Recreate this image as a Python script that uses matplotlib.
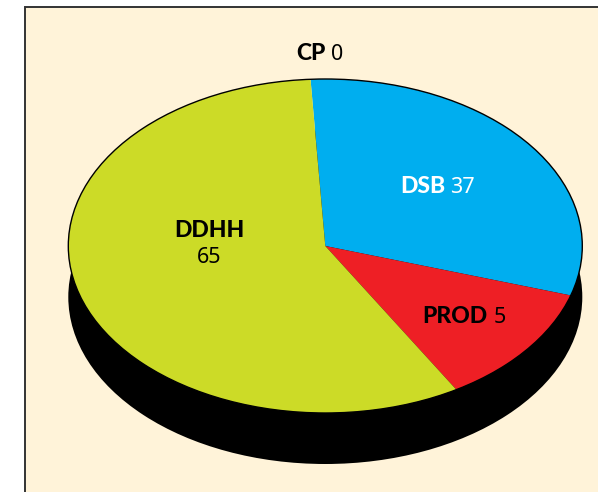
import matplotlib
matplotlib.use("Agg")
import matplotlib.pyplot as plt
from matplotlib.patches import Ellipse, Rectangle

# labels show the printed numbers, shares are the slice sizes as drawn in the picture
slice_names = ["DSB", "PROD", "DDHH", "CP"]
printed_values = [37, 5, 65, 0]
drawn_shares = [30.7, 11.7, 57.6, 0]
slice_colors = ["#00AEEF", "#EE1F25", "#CCDB27", "#FFFFFF"]

W, H = 598, 492
CX, CY, RX, RY = 325.3, 246, 257, 167
DEPTH = 51
NAME_FONT = "Lato"
VALUE_FONT = "Noto Sans"


def add_name(ax, x, y, name, color="black", ha="left"):
    ax.text(x, y, name, fontsize=16.5, fontweight="black", family=NAME_FONT, color=color, ha=ha, va="baseline")


def add_value(ax, x, y, value, color="black", ha="left"):
    ax.text(x, y, str(value), fontsize=15.5, fontweight="light", family=VALUE_FONT, color=color, ha=ha, va="baseline")


def main():
    fig = plt.figure(figsize=(W / 100, H / 100), dpi=100, facecolor="white")

    base = fig.add_axes([0, 0, 1, 1])
    base.set_xlim(0, W)
    base.set_ylim(H, 0)
    base.axis("off")
    base.add_patch(Rectangle((24.5, 7), W, H, facecolor="#FFF3D9", edgecolor="#333333", linewidth=1.4))
    base.add_patch(Ellipse((CX, CY + DEPTH), 2 * RX, 2 * RY, facecolor="black", edgecolor="none"))

    pie_ax = fig.add_axes([(CX - RX) / W, 1 - (CY + RY) / H, 2 * RX / W, 2 * RY / H])
    pie_ax.pie(drawn_shares, colors=slice_colors, startangle=93.3, counterclock=False,
               wedgeprops={"linewidth": 0})
    pie_ax.set_aspect("auto")
    pie_ax.set_xlim(-1, 1)
    pie_ax.set_ylim(-1, 1)
    pie_ax.add_patch(Ellipse((0, 0), 2, 2, facecolor="none", edgecolor="black", linewidth=1.0, clip_on=False))

    text_ax = fig.add_axes([0, 0, 1, 1])
    text_ax.set_xlim(0, W)
    text_ax.set_ylim(H, 0)
    text_ax.axis("off")
    text_ax.patch.set_alpha(0)

    add_name(text_ax, 296, 60, slice_names[3])
    add_value(text_ax, 331, 60, printed_values[3])
    add_name(text_ax, 400, 193, slice_names[0], color="white")
    add_value(text_ax, 450, 193, printed_values[0], color="white")
    add_name(text_ax, 422, 323, slice_names[1])
    add_value(text_ax, 494, 323, printed_values[1])
    add_name(text_ax, 209, 237, slice_names[2], ha="center")
    add_value(text_ax, 209, 263, printed_values[2], ha="center")

    fig.savefig("out.png", dpi=100)
    plt.close(fig)


if __name__ == "__main__":
    main()
